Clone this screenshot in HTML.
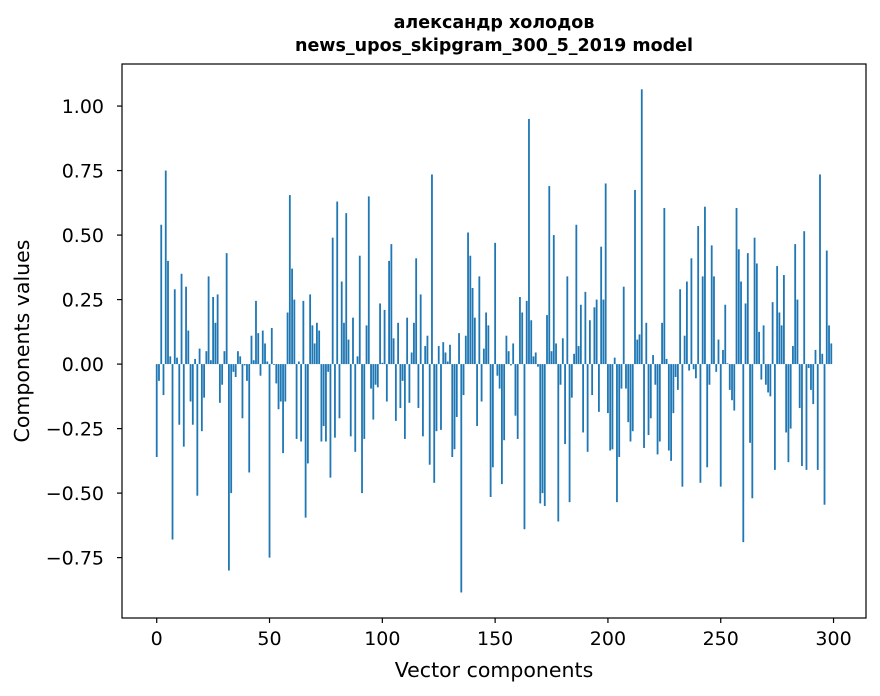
<!DOCTYPE html>
<html><head><meta charset="utf-8"><style>
body{margin:0;background:#fff}
svg{display:block}
text{font-family:"DejaVu Sans","Liberation Sans","Noto Sans CJK SC",sans-serif;fill:#000}
</style></head><body>
<svg id="chart" width="880" height="696" viewBox="0 0 880 696" xmlns="http://www.w3.org/2000/svg">
<rect width="880" height="696" fill="#fff"/>
<text x="494" y="28" font-size="17.5" font-weight="bold" text-anchor="middle">александр холодов</text>
<text x="494" y="51" font-size="17.5" font-weight="bold" text-anchor="middle">news_upos_skipgram_300_5_2019 model</text>
<g id="bars"></g>
<g id="xticks"></g>
<g id="yticks"></g>
<rect x="122" y="64" width="744" height="554" fill="none" stroke="#000" stroke-width="1.2"/>
<text x="494" y="677" font-size="20.5" text-anchor="middle">Vector components</text>
<text x="0" y="0" font-size="20.5" text-anchor="middle" transform="translate(29,341) rotate(-90)">Components values</text>
</svg>
<script>
const values = [-0.36,-0.065,0.54,-0.12,0.75,0.40,0.03,-0.68,0.29,0.025,-0.235,0.35,-0.32,0.30,0.13,-0.145,-0.235,0.02,-0.51,0.06,-0.26,-0.13,0.05,0.34,0.015,0.26,0.16,0.27,-0.15,-0.08,0.05,0.43,-0.80,-0.50,-0.03,-0.05,0.05,0.03,-0.21,-0.005,-0.065,-0.42,0.11,0.015,0.245,0.12,-0.045,0.13,0.08,0.01,-0.75,0.14,-0.003,-0.075,-0.175,-0.145,-0.345,-0.145,0.20,0.655,0.37,0.25,-0.29,0.01,-0.30,0.245,-0.595,-0.385,0.27,0.15,0.08,0.16,0.13,-0.30,-0.24,-0.30,-0.03,-0.44,0.49,-0.285,0.63,-0.21,0.32,0.16,0.585,0.095,-0.28,0.18,-0.34,0.03,0.42,-0.50,-0.29,0.15,0.65,-0.095,-0.215,-0.08,-0.09,0.235,0.005,0.21,-0.145,0.40,0.465,0.10,-0.22,0.16,-0.17,-0.065,-0.29,0.18,-0.15,0.045,0.16,0.41,-0.17,0.27,-0.28,0.07,0.11,-0.39,0.735,-0.46,-0.26,0.07,-0.255,0.085,0.045,0.01,0.075,-0.36,-0.33,-0.205,0.12,-0.885,-0.12,0.11,0.51,0.42,0.295,0.18,-0.24,0.34,-0.145,0.06,0.20,0.15,-0.515,-0.40,0.47,-0.045,-0.095,-0.465,-0.295,0.11,0.05,-0.005,0.08,-0.20,-0.29,0.26,0.20,-0.64,0.245,0.95,0.17,0.03,0.045,-0.01,-0.54,-0.50,-0.55,0.19,0.69,0.05,0.50,0.08,-0.61,-0.08,0.10,-0.31,0.34,-0.535,-0.13,0.04,0.54,0.07,0.23,-0.265,0.28,-0.34,0.17,-0.12,0.22,0.25,-0.185,0.455,0.25,0.70,-0.19,-0.335,-0.33,0.025,-0.535,-0.36,-0.095,0.30,-0.095,-0.225,-0.30,-0.26,0.675,0.095,0.115,1.065,-0.325,0.16,-0.275,-0.21,0.035,-0.08,-0.35,-0.30,0.16,0.605,0.02,-0.335,-0.375,-0.19,-0.05,-0.10,0.29,-0.475,0.11,0.32,-0.025,0.41,-0.02,-0.055,0.535,-0.46,0.34,0.61,-0.40,-0.08,0.46,0.34,-0.03,0.095,-0.475,0.055,0.23,0.003,-0.10,-0.14,-0.18,0.605,0.445,0.32,-0.69,0.235,0.43,-0.305,-0.52,0.49,0.39,0.125,-0.06,0.15,-0.08,-0.11,-0.125,0.24,-0.41,0.38,0.20,0.15,0.345,-0.265,-0.38,-0.25,0.07,0.465,0.25,-0.17,-0.395,0.515,-0.41,-0.015,-0.10,-0.155,0.055,-0.41,0.735,0.04,-0.545,0.44,0.15,0.08];
const categories = values.map((v, i) => i);
const xTickValues = [0, 50, 100, 150, 200, 250, 300];
const yTickValues = [-0.75, -0.5, -0.25, 0, 0.25, 0.5, 0.75, 1.0];
const yTickLabels = ["−0.75", "−0.50", "−0.25", "0.00", "0.25", "0.50", "0.75", "1.00"];

const NS = "http://www.w3.org/2000/svg";
const L = 122, R = 866, T = 64, B = 618;
const n = categories.length;
const pad = 0.05 * (n - 0.2);
const xmin = -0.4 - pad, xmax = n - 1 + 0.4 + pad;
const ymin = -0.984, ymax = 1.163;
function xs(v) { return L + (v - xmin) / (xmax - xmin) * (R - L); }
function ys(v) { return B - (v - ymin) / (ymax - ymin) * (B - T); }

const gb = document.getElementById('bars');
categories.forEach((c, i) => {
  const v = values[i];
  const r = document.createElementNS(NS, 'rect');
  
  
  const x0 = xs(c - 0.4), x1 = xs(c + 0.4);
  const y0 = ys(Math.max(v, 0)), y1 = ys(Math.min(v, 0));
  r.setAttribute('x', x0);
  r.setAttribute('width', x1 - x0);
  r.setAttribute('y', y0);
  r.setAttribute('height', Math.max(y1 - y0, 0.01));
  r.setAttribute('fill', '#1f77b4');
  gb.appendChild(r);
});

const gx = document.getElementById('xticks');
xTickValues.forEach(t => {
  const x = xs(t);
  const l = document.createElementNS(NS, 'line');
  
  
  l.setAttribute('x1', x); l.setAttribute('x2', x);
  l.setAttribute('y1', B); l.setAttribute('y2', B + 5);
  l.setAttribute('stroke', '#000'); l.setAttribute('stroke-width', '1.2');
  gx.appendChild(l);
  const tx = document.createElementNS(NS, 'text');
  
  
  tx.setAttribute('x', x); tx.setAttribute('y', B + 27);
  tx.setAttribute('font-size', '19');
  tx.setAttribute('text-anchor', 'middle');
  tx.textContent = String(t);
  gx.appendChild(tx);
});

const gy = document.getElementById('yticks');
yTickValues.forEach((t, i) => {
  const y = ys(t);
  const l = document.createElementNS(NS, 'line');
  
  
  l.setAttribute('x1', L - 5); l.setAttribute('x2', L);
  l.setAttribute('y1', y); l.setAttribute('y2', y);
  l.setAttribute('stroke', '#000'); l.setAttribute('stroke-width', '1.2');
  gy.appendChild(l);
  const tx = document.createElementNS(NS, 'text');
  
  
  tx.setAttribute('x', L - 18); tx.setAttribute('y', y + 7);
  tx.setAttribute('font-size', '19');
  tx.setAttribute('text-anchor', 'end');
  tx.textContent = yTickLabels[i];
  gy.appendChild(tx);
});
</script>
</body></html>
